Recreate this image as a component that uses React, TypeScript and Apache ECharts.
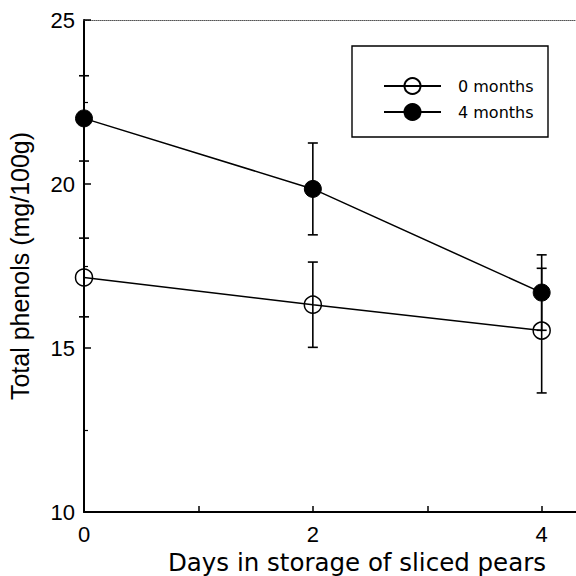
import React, { useEffect, useRef } from "react";
import * as echarts from "echarts";

const days = [0, 2, 4];
const mean0 = [17.15, 16.32, 15.53];
const err0 = [1.2, 1.3, 1.9];
const mean4 = [22.0, 19.85, 16.69];
const err4 = [1.3, 1.4, 1.15];
const seriesNames = ["0 months", "4 months"];
const xLabelDays = [0, 2, 4];
const xTickDays = [0, 1, 2, 3, 4];

const FONT = "Liberation Sans, Arial, sans-serif";
const WIDE = "DejaVu Sans, sans-serif";

function errorSeries(means: number[], errs: number[]) {
  return {
    type: "custom",
    silent: true,
    z: 1,
    data: days.map((d, i) => [d, means[i] - errs[i], means[i] + errs[i]]),
    renderItem: (params: any, api: any) => {
      const x = api.value(0);
      const lo = api.coord([x, api.value(1)]);
      const hi = api.coord([x, api.value(2)]);
      const cw = 5;
      const st = { stroke: "#000", lineWidth: 1.6 };
      return {
        type: "group",
        children: [
          { type: "line", shape: { x1: lo[0], y1: lo[1], x2: hi[0], y2: hi[1] }, style: st },
          { type: "line", shape: { x1: lo[0] - cw, y1: lo[1], x2: lo[0] + cw, y2: lo[1] }, style: st },
          { type: "line", shape: { x1: hi[0] - cw, y1: hi[1], x2: hi[0] + cw, y2: hi[1] }, style: st },
        ],
      };
    },
  };
}

export default function App() {
  const ref = useRef<HTMLDivElement>(null);
  useEffect(() => {
    if (!ref.current) return;
    const chart = echarts.init(ref.current, undefined, { renderer: "svg" });
    chart.setOption({
      animation: false,
      backgroundColor: "#fff",
      textStyle: { fontFamily: FONT },
      grid: { left: 84, top: 20, right: 0, bottom: 64, containLabel: false, outerBoundsMode: "none" },
      legend: {
        orient: "vertical",
        left: 378,
        top: 72,
        itemWidth: 57,
        itemHeight: 20,
        itemGap: 8,
        data: seriesNames,
        textStyle: { fontFamily: WIDE, fontSize: 16, color: "#000", padding: [0, 0, 0, 12] },
      },
      graphic: [
        {
          type: "rect",
          shape: { x: 352, y: 46, width: 196, height: 91 },
          style: { fill: "none", stroke: "#000", lineWidth: 1.4 },
          z: 10,
        },
      ],
      xAxis: [
        {
          type: "value",
          min: 0,
          max: 4.3,
          interval: 1,
          name: "Days in storage of sliced pears",
          nameLocation: "middle",
          nameGap: 26,
          nameTextStyle: { fontFamily: WIDE, fontSize: 24.5, color: "#000", padding: [0, 0, 0, 54] },
          axisLine: { show: true, lineStyle: { color: "#000", width: 2 } },
          axisTick: {
            show: true,
            inside: true,
            length: 6,
            customValues: xTickDays,
            lineStyle: { color: "#000", width: 1.5 },
          },
          axisLabel: {
            customValues: xLabelDays,
            fontFamily: FONT,
            fontSize: 22,
            color: "#000",
            margin: 11,
          },
          splitLine: { show: false },
        },
        {
          type: "value",
          position: "top",
          min: 0,
          max: 4.3,
          axisLine: { show: true, lineStyle: { color: "#555", width: 1, type: "dotted" } },
          axisTick: { show: false },
          axisLabel: { show: false },
          splitLine: { show: false },
        },
      ],
      yAxis: {
        type: "value",
        min: 10,
        max: 25,
        interval: 5,
        name: "Total phenols (mg/100g)",
        nameLocation: "middle",
        nameGap: 52,
        nameTextStyle: { fontFamily: FONT, fontSize: 25, color: "#000" },
        axisLine: { show: true, lineStyle: { color: "#000", width: 2 } },
        axisTick: { show: true, inside: true, length: 7, lineStyle: { color: "#000", width: 1.5 } },
        minorTick: { show: true, splitNumber: 2, length: 4, lineStyle: { color: "#000", width: 1.2 } },
        axisLabel: {
          fontFamily: FONT,
          fontSize: 22,
          color: "#000",
          margin: 9,
          padding: [7, 0, 0, 0],
        },
        splitLine: { show: false },
      },
      series: [
        errorSeries(mean0, err0),
        errorSeries(mean4, err4),
        {
          name: seriesNames[0],
          type: "line",
          z: 3,
          data: days.map((d, i) => [d, mean0[i]]),
          symbol: "circle",
          symbolSize: 17,
          lineStyle: { color: "#000", width: 1.5 },
          itemStyle: { color: "rgba(255,255,255,0)", borderColor: "#000", borderWidth: 1.5 },
        },
        {
          name: seriesNames[1],
          type: "line",
          z: 3,
          data: days.map((d, i) => [d, mean4[i]]),
          symbol: "circle",
          symbolSize: 17,
          lineStyle: { color: "#000", width: 1.5 },
          itemStyle: { color: "#000", borderColor: "#000", borderWidth: 1 },
        },
      ],
    });
    return () => chart.dispose();
  }, []);
  return (
    <div
      ref={ref}
      style={{ position: "fixed", left: 0, top: 0, width: 576, height: 576 }}
    />
  );
}
